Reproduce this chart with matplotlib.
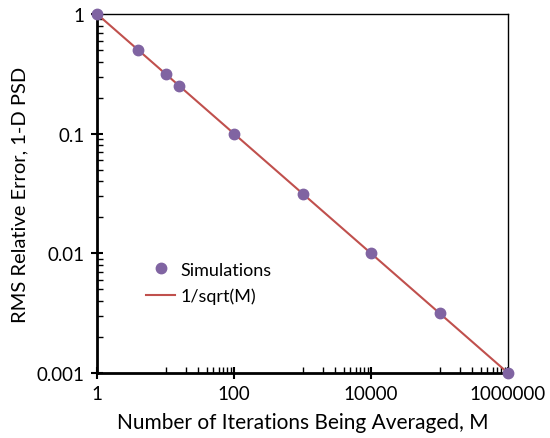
import matplotlib
matplotlib.use("Agg")
import matplotlib.pyplot as plt
import numpy as np
from matplotlib.ticker import FixedLocator, NullFormatter

plt.rcParams['font.family'] = ['Lato', 'DejaVu Sans']

sim_M = [1, 4, 10, 16, 100, 1000, 10000, 100000, 1000000]
sim_err = [1.0, 0.5, 0.316, 0.25, 0.1, 0.0316, 0.01, 0.00316, 0.001]
theory_M = [1, 1000000]
x_ticks = [1, 100, 10000, 1000000]
x_tick_labels = ["1", "100", "10000", "1000000"]
y_ticks = [0.001, 0.01, 0.1, 1]
y_tick_labels = ["0.001", "0.01", "0.1", "1"]

fig = plt.figure(figsize=(5.5, 4.39), dpi=100)
ax = fig.add_axes([97/550, 1 - 374/439, (508 - 97)/550, (374 - 15)/439])

tm = np.array(theory_M, dtype=float)
ax.plot(tm, 1/np.sqrt(tm), color='#C0504D', lw=1.5, label='1/sqrt(M)', zorder=2)
ax.plot(sim_M, sim_err, 'o', color='#8064A2', ms=7.5, label='Simulations',
        zorder=3, clip_on=False)

ax.set_xscale('log')
ax.set_yscale('log')
ax.set_xlim(1, 1e6)
ax.set_ylim(0.001, 1)

ax.xaxis.set_major_locator(FixedLocator(x_ticks))
ax.set_xticklabels(x_tick_labels)
xminor = [10 * k * 100**n for n in range(3) for k in range(1, 10)]
ax.xaxis.set_minor_locator(FixedLocator(xminor))
ax.xaxis.set_minor_formatter(NullFormatter())

ax.yaxis.set_major_locator(FixedLocator(y_ticks))
ax.set_yticklabels(y_tick_labels)
yminor = [k * 10.0**n for n in range(-3, 0) for k in range(2, 10)]
ax.yaxis.set_minor_locator(FixedLocator(yminor))
ax.yaxis.set_minor_formatter(NullFormatter())

ax.tick_params(which='major', direction='inout', length=8, width=1.5,
               labelsize=13.5, pad=5, top=False, right=False)
ax.tick_params(which='minor', direction='in', length=4, width=1,
               top=False, right=False)

for s in ['left', 'bottom']:
    ax.spines[s].set_linewidth(2)
for s in ['top', 'right']:
    ax.spines[s].set_linewidth(1)

ax.set_xlabel('Number of Iterations Being Averaged, M', fontsize=15, labelpad=7)
ax.set_ylabel('RMS Relative Error, 1-D PSD', fontsize=14.5, labelpad=6)

handles, labels = ax.get_legend_handles_labels()
leg = ax.legend(handles[::-1], labels[::-1], loc='upper left',
                bbox_to_anchor=(0.08, 0.355), frameon=False, fontsize=13,
                handlelength=1.6, handletextpad=0.3, labelspacing=0.55)

fig.savefig('out.png', dpi=100)
